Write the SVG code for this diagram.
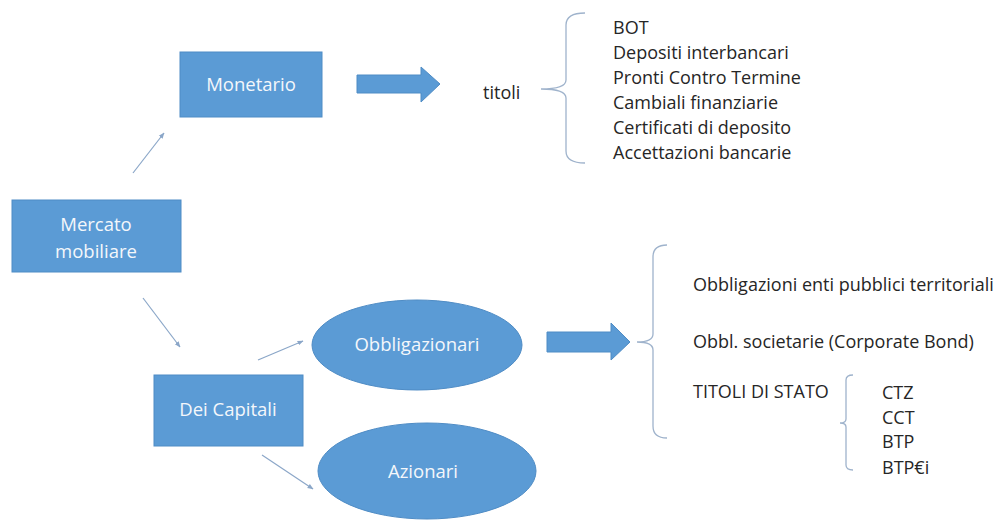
<svg xmlns="http://www.w3.org/2000/svg" width="1004" height="520" viewBox="0 0 1004 520">
  <defs>
    <style>
      .box { fill: #5B9BD5; stroke: #4F8CC5; stroke-width: 1; }
      .lbl { font-family: "Open Sans", "Liberation Sans", sans-serif; font-size: 18.5px; fill: #F4F7FB; text-anchor: middle; }
      .txt { font-family: "Open Sans", "Liberation Sans", sans-serif; font-size: 18px; fill: #262626; }
      .conn { stroke: #8AA6C8; stroke-width: 1.2; fill: none; marker-end: url(#ah); }
      .brace { stroke: #9FB3CC; stroke-width: 1.3; fill: none; }
      .block { fill: #5B9BD5; stroke: #4F8CC5; stroke-width: 1; }
    </style>
    <marker id="ah" viewBox="0 0 10 10" refX="9" refY="5" markerWidth="6" markerHeight="6" orient="auto" markerUnits="userSpaceOnUse">
      <path d="M0,1 L10,5 L0,9 Z" fill="#8AA6C8"/>
    </marker>
  </defs>
  <rect width="1004" height="520" fill="#FFFFFF"/>

  <g id="connectors">
    <line class="conn" x1="133" y1="173" x2="164" y2="133"/>
    <line class="conn" x1="143" y1="298" x2="180" y2="347"/>
    <line class="conn" x1="258" y1="360" x2="303" y2="341"/>
    <line class="conn" x1="262" y1="455" x2="313" y2="489"/>
    <polygon class="block" points="357,75 421,75 421,67 440,84 421,102 421,93 357,93"/>
    <polygon class="block" points="547,332 611,332 611,323 630,342 611,360 611,352 547,352"/>
  </g>

  <g id="node-mercato">
    <rect class="box" x="12" y="200" width="169" height="72"/>
    <text class="lbl" x="96" y="231">Mercato</text>
    <text class="lbl" x="96" y="258">mobiliare</text>
  </g>

  <g id="node-monetario">
    <rect class="box" x="180" y="52" width="142" height="65"/>
    <text class="lbl" x="251" y="91">Monetario</text>
  </g>

  <g id="node-capitali">
    <rect class="box" x="154" y="375" width="149" height="71"/>
    <text class="lbl" x="228" y="416">Dei Capitali</text>
  </g>

  <g id="node-obbligazionari">
    <ellipse class="box" cx="417" cy="345" rx="105" ry="45"/>
    <text class="lbl" x="417" y="351">Obbligazionari</text>
  </g>

  <g id="node-azionari">
    <ellipse class="box" cx="427" cy="471" rx="109" ry="48"/>
    <text class="lbl" x="423" y="478">Azionari</text>
  </g>

  <g id="node-titoli">
    <text class="txt" x="483" y="99">titoli</text>
    <path class="brace" d="M585,13 Q566,13 566,25 L566,80 Q566,89 541,89 Q566,89 566,98 L566,151 Q566,163 585,163"/>
    <text class="txt" x="613" y="34">BOT</text>
    <text class="txt" x="613" y="59">Depositi interbancari</text>
    <text class="txt" x="613" y="84">Pronti Contro Termine</text>
    <text class="txt" x="613" y="109">Cambiali finanziarie</text>
    <text class="txt" x="613" y="134">Certificati di deposito</text>
    <text class="txt" x="613" y="159">Accettazioni bancarie</text>
  </g>

  <g id="node-obbligazioni-list">
    <path class="brace" d="M667,245 Q653,245 653,257 L653,334 Q653,342 637,342 Q653,342 653,350 L653,426 Q653,438 667,438"/>
    <text class="txt" x="693" y="291">Obbligazioni enti pubblici territoriali</text>
    <text class="txt" x="693" y="348">Obbl. societarie (Corporate Bond)</text>
    <text class="txt" x="693" y="398">TITOLI DI STATO</text>
  </g>

  <g id="node-titoli-stato">
    <path class="brace" d="M853,375 Q846,375 846,380 L846,419 Q846,423 840,423 Q846,423 846,427 L846,465 Q846,470 853,470"/>
    <text class="txt" x="882" y="399">CTZ</text>
    <text class="txt" x="882" y="424">CCT</text>
    <text class="txt" x="882" y="448">BTP</text>
    <text class="txt" x="882" y="474">BTP€i</text>
  </g>
</svg>
